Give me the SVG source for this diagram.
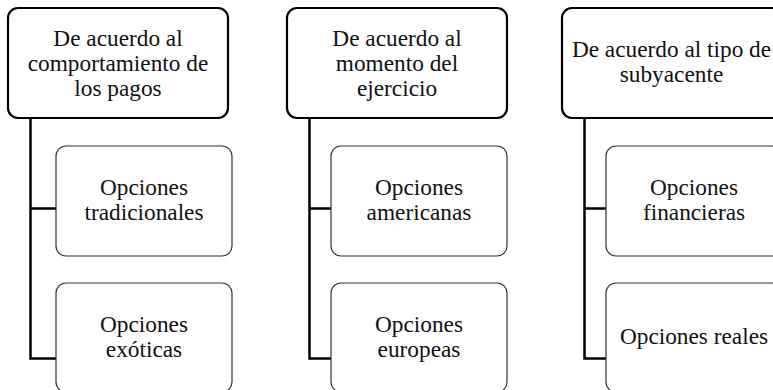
<svg xmlns="http://www.w3.org/2000/svg" width="773" height="390" viewBox="0 0 773 390">
<style>
.parent{fill:#fff;stroke:#000;stroke-width:2.2}
.child{fill:#fff;stroke:#333;stroke-width:1.2}
.conn{fill:none;stroke:#000;stroke-width:2.5}
text{font-family:"Liberation Serif","Times New Roman",serif;font-size:23.3px;fill:#111;text-anchor:middle}
</style>
<rect width="773" height="390" fill="#fff"/>
<g id="connectors">
<path class="conn" d="M30.5,118 V358.5 H56 M30.5,208.5 H56"/>
<path class="conn" d="M309.5,118 V358.5 H331 M309.5,208.5 H331"/>
<path class="conn" d="M584.5,118 V358.5 H606 M584.5,208.5 H606"/>
</g>
<g id="p1">
<rect class="parent" x="8" y="8" width="220" height="110" rx="10"/>
<text x="118" y="45.5">De acuerdo al</text>
<text x="118" y="71">comportamiento de</text>
<text x="118" y="96">los pagos</text>
</g>
<g id="c1a">
<rect class="child" x="56" y="146" width="176" height="110" rx="10"/>
<text x="144" y="195">Opciones</text>
<text x="144" y="220">tradicionales</text>
</g>
<g id="c1b">
<rect class="child" x="56" y="283" width="176" height="109" rx="10"/>
<text x="144" y="332">Opciones</text>
<text x="144" y="357">exóticas</text>
</g>
<g id="p2">
<rect class="parent" x="287" y="8" width="220" height="110" rx="10"/>
<text x="397" y="45.5">De acuerdo al</text>
<text x="397" y="71">momento del</text>
<text x="397" y="96">ejercicio</text>
</g>
<g id="c2a">
<rect class="child" x="331" y="146" width="176" height="110" rx="10"/>
<text x="419" y="195">Opciones</text>
<text x="419" y="220">americanas</text>
</g>
<g id="c2b">
<rect class="child" x="331" y="283" width="176" height="109" rx="10"/>
<text x="419" y="332">Opciones</text>
<text x="419" y="357">europeas</text>
</g>
<g id="p3">
<rect class="parent" x="562" y="8" width="220" height="110" rx="10"/>
<text x="671.5" y="57">De acuerdo al tipo de</text>
<text x="671.5" y="82">subyacente</text>
</g>
<g id="c3a">
<rect class="child" x="606" y="146" width="176" height="110" rx="10"/>
<text x="694" y="195">Opciones</text>
<text x="694" y="220">financieras</text>
</g>
<g id="c3b">
<rect class="child" x="606" y="283" width="176" height="109" rx="10"/>
<text x="694" y="344">Opciones reales</text>
</g>
</svg>
